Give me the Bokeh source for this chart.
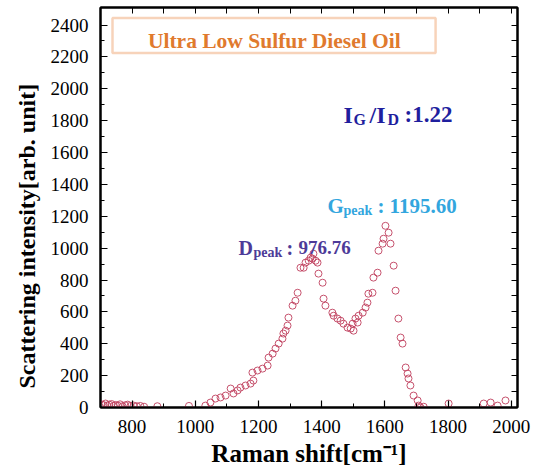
from bokeh.plotting import figure
from bokeh.models import Range1d, FixedTicker, LinearAxis, BoxAnnotation, Label, Title
from bokeh.embed import file_html
from bokeh.resources import INLINE

# ---------------- data ----------------
raman_shift = [703, 710, 716, 722, 728, 735, 742, 748, 755, 762, 770, 778, 786, 795,
               805, 815, 826, 838, 880, 980,
               1032, 1048, 1064, 1080, 1096, 1112, 1121, 1134, 1143, 1159, 1175, 1181,
               1184, 1197, 1213, 1229, 1232, 1245, 1254, 1264, 1276, 1279, 1286, 1292,
               1295, 1308, 1317, 1324, 1333, 1343, 1349, 1359, 1365, 1371, 1374, 1381,
               1387, 1390, 1403, 1406, 1412, 1434, 1438, 1450, 1460, 1469, 1482, 1492,
               1498, 1501, 1507, 1514, 1517, 1530, 1539, 1545, 1548, 1561, 1564, 1577,
               1580, 1593, 1596, 1602, 1612, 1618, 1628, 1634, 1643, 1650, 1656, 1666,
               1672, 1675, 1681, 1691, 1704, 1707, 1713, 1723,
               1802, 1913, 1935, 1957, 1982]
intensity = [20, 15, 25, 12, 18, 22, 10, 16, 12, 20, 8, 14, 18, 10,
             12, 8, 10, 5, 8, 10,
             12, 31, 56, 63, 75, 119, 88, 107, 125, 138, 150, 219,
             169, 232, 244, 263, 313, 338, 370, 401, 432, 464, 482, 514,
             564, 639, 670, 720, 877, 877, 909, 921, 940, 934, 965, 921,
             909, 840, 783, 683, 639, 595, 576, 558, 545, 526, 501, 495,
             526, 482, 558, 533, 576, 595, 627, 658, 714, 720, 815, 846,
             984, 1028, 1059, 1140, 1097, 1028, 890, 733, 558, 439, 401, 251,
             213, 182, 138, 75, 44, 12, 0, 5,
             25, 25, 31, 12, 44]

x_ticks = [800, 1000, 1200, 1400, 1600, 1800, 2000]
x_minor = [700, 900, 1100, 1300, 1500, 1700, 1900]
x_all = [700, 800, 900, 1000, 1100, 1200, 1300, 1400, 1500, 1600, 1700, 1800, 1900, 2000]
y_ticks = [0, 200, 400, 600, 800, 1000, 1200, 1400, 1600, 1800, 2000, 2200, 2400]
y_minor = [100, 300, 500, 700, 900, 1100, 1300, 1500, 1700, 1900, 2100, 2300]
y_all = [100, 200, 300, 400, 500, 600, 700, 800, 900, 1000, 1100, 1200,
         1300, 1400, 1500, 1600, 1700, 1800, 1900, 2000, 2100, 2200, 2300, 2400]

x_title = "Raman shift[cm\u207b\u00b9]"
y_title = "Scattering intensity[arb. unit]"
title_text = "Ultra Low Sulfur Diesel Oil"
ratio_text = ":1.22"
g_peak_text = "1195.60"
d_peak_text = "976.76"

FONT = "Liberation Serif"

X0, X1 = 700, 2020
Y0, Y1 = 0, 2510

p = figure(width=537, height=476, output_backend="svg", toolbar_location=None,
           x_range=Range1d(X0, X1), y_range=Range1d(Y0, Y1),
           min_border_left=100, min_border_right=20, min_border_top=7,
           min_border_bottom=69)
p.background_fill_color = "white"
p.border_fill_color = "white"
p.grid.visible = False
p.outline_line_color = "black"
p.outline_line_width = 2


def style_axis(ax, ticks, minor, labels=True):
    ax.ticker = FixedTicker(ticks=ticks, minor_ticks=minor)
    ax.axis_line_color = "black"
    ax.axis_line_width = 2
    ax.major_tick_in = 7
    ax.major_tick_out = 0
    ax.minor_tick_in = 4 if labels else 6
    ax.minor_tick_out = 0
    ax.major_tick_line_width = 1.2
    ax.minor_tick_line_width = 1
    if labels:
        ax.major_label_text_font = FONT
        ax.major_label_text_font_size = "19px"
        ax.major_label_text_color = "black"
        ax.major_label_standoff = 12
        ax.axis_label_text_font = FONT
        ax.axis_label_text_font_style = "bold"
        ax.axis_label_text_color = "black"


style_axis(p.xaxis[0], x_ticks, x_minor)
style_axis(p.yaxis[0], y_ticks, y_minor)
p.xaxis[0].axis_label = x_title
p.xaxis[0].axis_label_text_font_size = "25px"
p.xaxis[0].axis_label_standoff = 4

# y-axis title as a side title so it can be offset like the reference
p.add_layout(Title(text=y_title, align="left", offset=19, standoff=16,
                   text_font=FONT, text_font_size="24px", text_font_style="bold",
                   text_color="black"), "left")

# mirror axes: ticks only, no labels
top_ax = LinearAxis()
style_axis(top_ax, [], x_all, labels=False)
p.add_layout(top_ax, "above")
right_ax = LinearAxis()
style_axis(right_ax, [], y_all, labels=False)
p.add_layout(right_ax, "right")

# data points
p.scatter(raman_shift, intensity, marker="circle", size=7, fill_color=None,
          line_color="#c0405e", line_width=1, line_alpha=0.9)


# helpers converting reference pixel positions to data positions (layout only)
def dx(wx):
    return X0 + (wx - 100) * (2000 - 800) / (510.6 - 131.6)


def dy(wy):
    return (407 - wy) * 2400 / (407 - 24)


# title box
p.add_layout(BoxAnnotation(left=dx(112), right=dx(435), bottom=dy(52), top=dy(17),
                           fill_color="white", fill_alpha=1,
                           line_color="#e46c1c", line_width=2.5))


def lab(txt, wx, wy, size, color, align="left"):
    p.add_layout(Label(x=dx(wx), y=dy(wy), text=txt, text_font=FONT,
                       text_font_size=f"{size}px", text_font_style="bold",
                       text_color=color, text_align=align,
                       text_baseline="alphabetic"))


lab(title_text, 274, 40, 21.5, "#e07a2e", align="center")

# I_G / I_D
c1 = "#1f1f9e"
lab("I", 343, 114, 24, c1)
lab("G", 353, 119, 16, c1)
lab("/I", 369, 114, 24, c1)
lab("D", 387, 119, 16, c1)
lab(ratio_text, 404, 114, 23, c1)

# G peak
c2 = "#33a6de"
lab("G", 327, 205, 21, c2)
lab("peak", 343, 210, 14, c2)
lab(":", 377, 205, 21, c2)
lab(g_peak_text, 389, 205, 21, c2)

# D peak
c3 = "#4d3b98"
lab("D", 238, 247, 20, c3)
lab("peak", 253, 252, 14, c3)
lab(":", 286, 247, 20, c3)
lab(d_peak_text, 298, 247, 19, c3)

open("out.html", "w").write(file_html(p, INLINE))
